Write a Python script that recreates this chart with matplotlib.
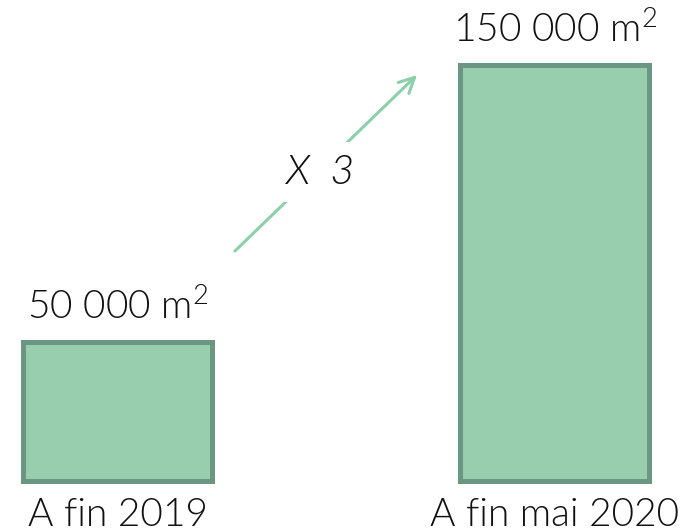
import matplotlib.pyplot as plt

# valeurs
periods = ['A fin 2019', 'A fin mai 2020']
surfaces = [50000, 150000]
value_labels = ['50 000 m$^{2}$', '150 000 m$^{2}$']
ratio_label = 'X  3'

fill = '#98cdae'
edge = '#6b9681'
arrow_col = '#8ccfab'

plt.rcParams['font.family'] = ['Lato', 'DejaVu Sans']
plt.rcParams['font.weight'] = 300
plt.rcParams['mathtext.default'] = 'regular'

fig = plt.figure(figsize=(6.83, 5.32), dpi=100)
ax = fig.add_axes([0, 51.5 / 532, 1, 480.5 / 532])

x = list(range(len(surfaces)))
bars = ax.bar(x, surfaces, width=0.4325, color=fill, edgecolor=edge,
              linewidth=3.6, clip_on=False)

for b, lab in zip(bars, value_labels):
    ax.annotate(lab, (b.get_x() + b.get_width() / 2, b.get_height()),
                xytext=(0, 17), textcoords='offset points',
                ha='center', va='baseline', fontsize=28, color='#111111',
                fontweight=300)

ax.set_xlim(-0.27, 1.293)
ax.set_ylim(0, 173500)
ax.set_xticks(x)
ax.set_xticklabels(periods, fontsize=28, color='#111111', fontweight=300)
ax.tick_params(axis='x', length=0, pad=12)
ax.set_yticks([])
for s in ax.spines.values():
    s.set_visible(False)

# fleche "X 3"
ax.annotate('', xy=(0.6135, 0.848), xytext=(0.341, 0.4735),
            xycoords='axes fraction', textcoords='axes fraction',
            arrowprops=dict(arrowstyle='->,head_length=1.1,head_width=0.55',
                            color=arrow_col, lw=2.2))
ax.text(0.4685, 0.642, ratio_label, transform=ax.transAxes, ha='center',
        va='center', fontsize=30, style='italic', color='#111111',
        fontweight=300,
        bbox=dict(facecolor='white', edgecolor='none', pad=8))

fig.savefig('out.png', dpi=100)
